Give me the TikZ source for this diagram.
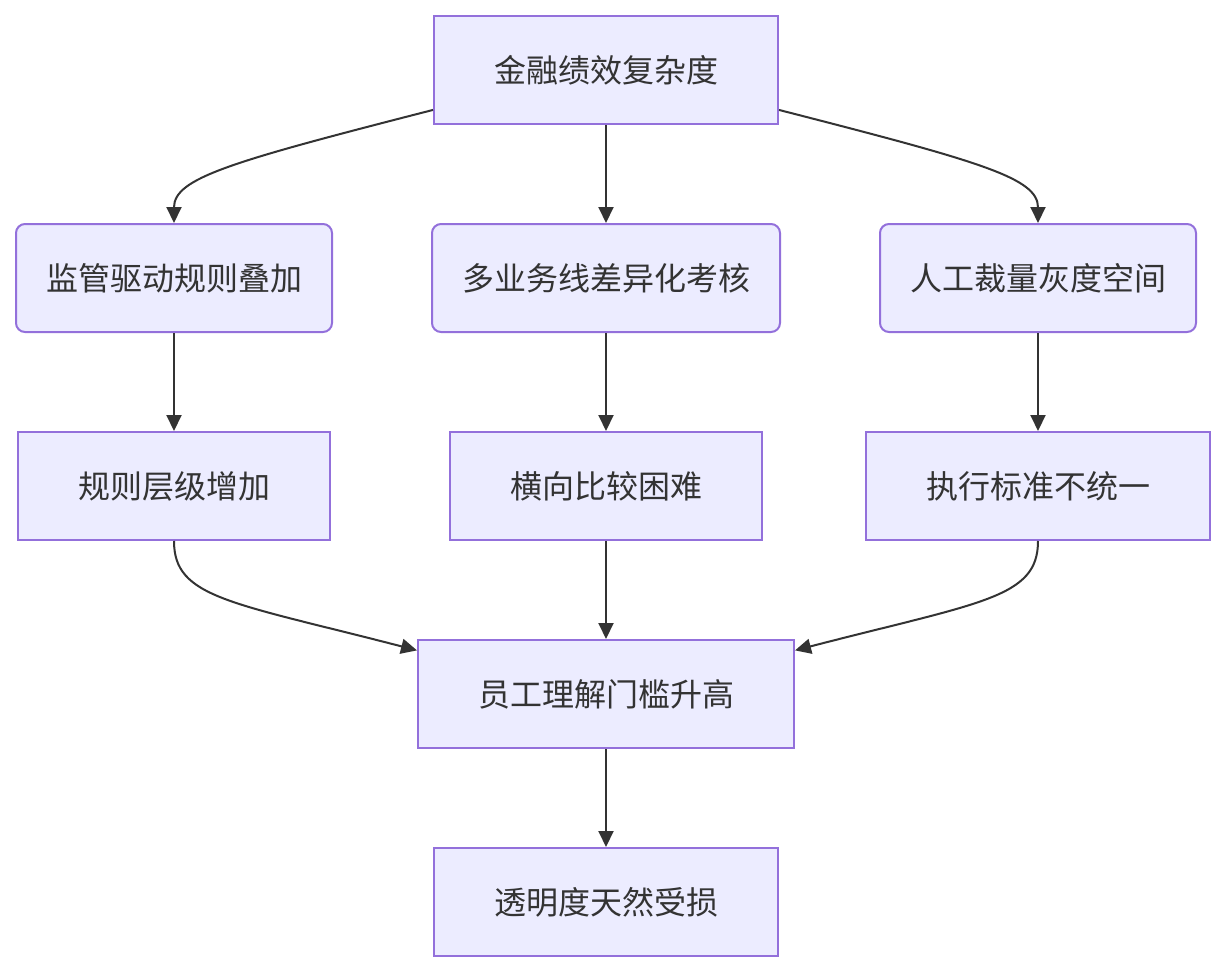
\documentclass[tikz,border=0pt]{standalone}
\usepackage{fontspec}
\newfontfamily\cjk{Noto Sans CJK SC}
\usetikzlibrary{arrows.meta}
\definecolor{boxfill}{HTML}{ECECFF}
\definecolor{boxline}{HTML}{9370DB}
\definecolor{ink}{HTML}{333333}
\tikzset{
  box/.style={draw=boxline,fill=boxfill,line width=2pt,inner sep=0pt,minimum height=108pt,text=ink},
  rbox/.style={box,rounded corners=9pt},
  link/.style={draw=ink,line width=2pt,-{Triangle[length=16pt,width=15pt]}}
}

\begin{document}
\begin{tikzpicture}[x=1pt,y=-1pt,font=\cjk\fontsize{32}{38}\selectfont]
\useasboundingbox (0,0) rectangle (1226,972);
\node[box,minimum width=344pt] (top) at (606,70) {金融绩效复杂度};
\node[rbox,minimum width=316pt] (reg) at (174,278) {监管驱动规则叠加};
\node[rbox,minimum width=348pt] (biz) at (606,278) {多业务线差异化考核};
\node[rbox,minimum width=316pt] (man) at (1038,278) {人工裁量灰度空间};
\node[box,minimum width=312pt] (lvl) at (174,486) {规则层级增加};
\node[box,minimum width=312pt] (cmp) at (606,486) {横向比较困难};
\node[box,minimum width=344pt] (std) at (1038,486) {执行标准不统一};
\node[box,minimum width=376pt] (bar) at (606,694) {员工理解门槛升高};
\node[box,minimum width=344pt] (tra) at (606,902) {透明度天然受损};
% edges
\draw[link] (top.193) .. controls (230,162) and (174,178) .. (reg.north);
\draw[link] (top) -- (biz);
\draw[link] (top.-13) .. controls (982,162) and (1038,178) .. (man.north);
\draw[link] (reg) -- (lvl);
\draw[link] (biz) -- (cmp);
\draw[link] (man) -- (std);
\draw[link] (lvl.south) .. controls (174,598) and (230,602) .. (bar.167);
\draw[link] (cmp) -- (bar);
\draw[link] (std.south) .. controls (1038,598) and (982,602) .. (bar.13);
\draw[link] (bar) -- (tra);
\end{tikzpicture}
\end{document}
